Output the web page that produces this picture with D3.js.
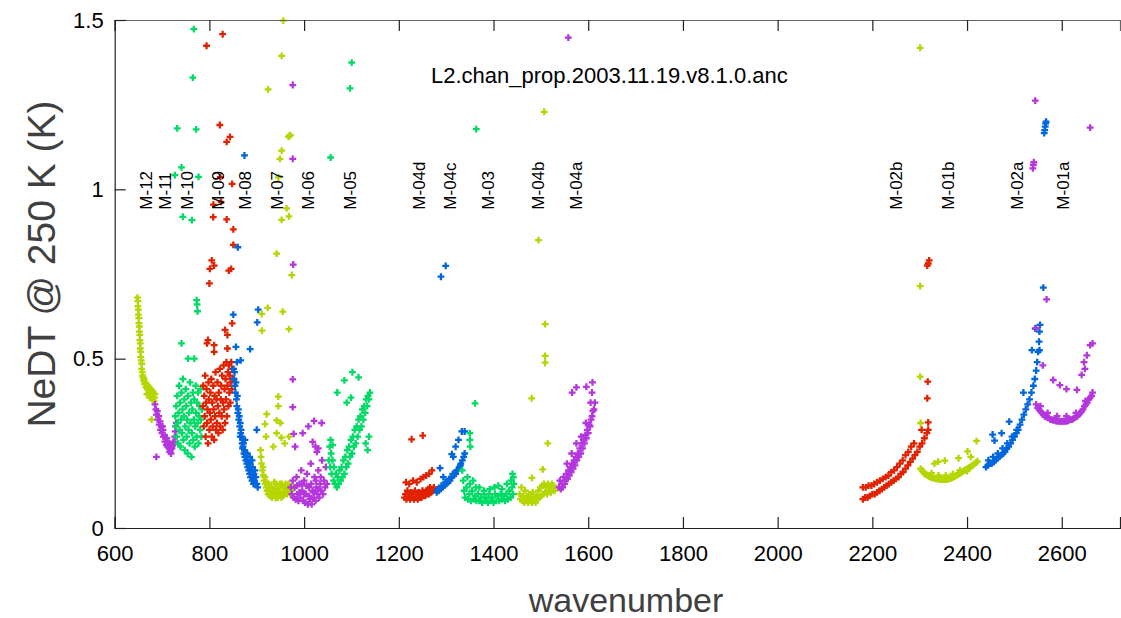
<!DOCTYPE html>
<html>
<head>
<meta charset="utf-8">
<script src="https://cdn.jsdelivr.net/npm/d3@7"></script>
<style>
  body { margin: 0; background: #fff; }
  svg { font-family: "Liberation Sans", Arial, sans-serif; }
</style>
</head>
<body>
<div id="chart"></div>
<script>
// module names, in the order the colours cycle
const modules = ["M-12", "M-11", "M-10", "M-09", "M-08", "M-07", "M-06", "M-05", "M-04d", "M-04c", "M-04b", "M-04a", "M-03", "M-02b", "M-02a", "M-01b", "M-01a"];
// wavenumber where each module label sits
const labelPos = [666, 707, 752, 819, 875, 942, 1008, 1096, 1243, 1309, 1493, 1575, 1388, 2251, 2505, 2359, 2602];
const palette = ["#b5d600", "#b536dc", "#00db66", "#e12200", "#0066dd"];

const xTicks = [600, 800, 1000, 1200, 1400, 1600, 1800, 2000, 2200, 2400, 2600];
const yTicks = [0, 0.5, 1, 1.5];

// [wavenumber, NeDT], one list per module
const m12 = [[648,0.68],[649,0.67],[649,0.655],[650,0.645],[650,0.63],[651,0.62],[651,0.605],[652,0.595],[652,0.58],[653,0.57],[653,0.555],[654,0.545],[654,0.53],[655,0.52],[655,0.505],[656,0.495],[657,0.485],[657,0.47],[658,0.46],[659,0.45],[660,0.445],[661,0.435],[662,0.44],[663,0.425],[664,0.43],[666,0.415],[667,0.425],[669,0.41],[670,0.42],[672,0.40],[673,0.415],[675,0.395],[676,0.41],[678,0.39],[679,0.405],[681,0.385],[682,0.40],[684,0.385],[685,0.395],[668,0.395],[674,0.385],[680,0.38],[683,0.375],[678,0.32]];
const m11 = [[685,0.365],[687,0.35],[688,0.335],[690,0.345],[691,0.32],[693,0.33],[694,0.305],[696,0.315],[697,0.29],[699,0.30],[700,0.28],[702,0.29],[703,0.27],[705,0.275],[706,0.255],[708,0.265],[709,0.245],[711,0.255],[712,0.24],[714,0.25],[715,0.235],[717,0.245],[718,0.23],[720,0.24],[721,0.235],[723,0.245],[724,0.255],[726,0.25],[727,0.27],[728,0.285],[729,0.30],[730,0.31],[716,0.225],[719,0.22],[710,0.265],[701,0.30],[688,0.21]];
const m10 = [[728,0.33],[729,0.30],[730,0.36],[731,0.27],[732,0.39],[733,0.31],[734,0.25],[735,0.34],[736,0.42],[737,0.29],[738,0.37],[739,0.24],[740,0.32],[741,0.40],[742,0.28],[743,0.35],[744,0.44],[745,0.26],[746,0.33],[747,0.38],[748,0.23],[749,0.30],[750,0.41],[751,0.36],[752,0.27],[753,0.32],[754,0.22],[755,0.39],[756,0.29],[757,0.34],[758,0.25],[759,0.43],[760,0.31],[761,0.37],[762,0.21],[763,0.28],[764,0.35],[765,0.40],[766,0.26],[767,0.32],[768,0.38],[769,0.24],[770,0.30],[771,0.42],[772,0.34],[773,0.27],[774,0.37],[775,0.31],[776,0.40],[777,0.25],[778,0.33],[779,0.36],[780,0.29],[781,0.41],[782,0.32],[783,0.27],[784,0.35],
  [741,0.545],[755,0.50],[768,0.50],[773,0.673],[774,0.66],[775,0.64],[767,1.473],[765,1.33],[732,1.18],[772,1.177],[741,1.065],[727,1.042],[777,1.037],[744,0.919],[763,0.909]];
const m09 = [[786,0.36],[787,0.42],[788,0.30],[789,0.39],[790,0.33],[791,0.45],[792,0.27],[793,0.37],[794,0.41],[795,0.31],[796,0.35],[797,0.25],[798,0.43],[799,0.38],[800,0.29],[801,0.34],[802,0.40],[803,0.32],[804,0.44],[805,0.27],[806,0.37],[807,0.30],[808,0.42],[809,0.35],[810,0.26],[811,0.39],[812,0.33],[813,0.46],[814,0.29],[815,0.38],[816,0.31],[817,0.43],[818,0.36],[819,0.28],[820,0.40],[821,0.34],[822,0.47],[823,0.30],[824,0.38],[825,0.42],[826,0.33],[827,0.45],[828,0.29],[829,0.37],[830,0.48],[831,0.35],[832,0.41],[833,0.31],[834,0.44],[835,0.38],[836,0.49],[837,0.33],[838,0.42],[839,0.46],[840,0.36],[841,0.48],[842,0.40],[843,0.45],[844,0.37],[845,0.43],[846,0.49],[847,0.41],[848,0.47],[849,0.44],
  [795,0.545],[797,0.555],[810,0.54],[810,0.52],[833,0.585],[838,0.57],[848,0.604],[838,0.53],[805,0.79],[810,0.775],[801,0.765],[800,0.722],[841,0.76],[846,0.765],[828,1.458],[794,1.424],[822,1.19],[843.5,1.155],[836.5,1.14],[848,1.016],[823,1.036],[824.5,0.963],[808.5,0.955],[808,0.918],[836.5,0.911],[850.5,0.882],[850.5,0.836]];
const m08 = [[851,0.47],[852,0.44],[853,0.46],[854,0.42],[855,0.40],[856,0.43],[857,0.38],[858,0.36],[859,0.39],[860,0.34],[861,0.35],[862,0.32],[863,0.33],[864,0.30],[865,0.31],[866,0.28],[867,0.29],[868,0.27],[869,0.25],[870,0.26],[871,0.24],[872,0.25],[873,0.22],[874,0.23],[875,0.21],[876,0.22],[877,0.20],[878,0.21],[879,0.19],[880,0.20],[881,0.18],[882,0.19],[883,0.17],[884,0.18],[885,0.16],[886,0.19],[887,0.15],[888,0.17],[889,0.16],[890,0.14],[891,0.18],[892,0.15],[893,0.13],[894,0.16],[895,0.14],[896,0.17],[897,0.13],[898,0.15],[900,0.13],[902,0.12],[865,0.27],[870,0.235],[875,0.26],[880,0.22],[885,0.21],[890,0.20],
  [850.5,0.63],[903,0.645],[901,0.607],[856,0.535],[886,0.528],[858,0.49],[866,0.495],[900,0.29],[874,1.10],[860,0.829]];
const m07 = [[908,0.23],[909,0.21],[910,0.19],[912,0.17],[913,0.18],[914,0.155],[916,0.14],[917,0.15],[918,0.13],[920,0.12],[921,0.135],[922,0.11],[924,0.10],[925,0.13],[927,0.12],[928,0.095],[930,0.10],[931,0.12],[932,0.09],[934,0.10],[935,0.115],[937,0.135],[938,0.105],[940,0.088],[941,0.13],[943,0.115],[944,0.09],[946,0.10],[947,0.12],[949,0.13],[950,0.105],[952,0.09],[953,0.13],[955,0.12],[956,0.095],[958,0.105],[959,0.12],[961,0.13],[962,0.11],[964,0.10],[965,0.12],[967,0.13],[968,0.11],[970,0.115],[971,0.10],[973,0.11],[974,0.125],
  [942,0.81],[974,0.747],[910.5,0.632],[923,0.65],[955,0.639],[968,0.587],[911,0.583],[945.5,0.388],[945.5,0.36],[921,0.336],[942,0.318],[950,0.31],[917.5,0.307],[942,0.28],[968,0.27],[919.5,0.27],[952,0.267],[959,0.25],[935,0.24],[956,1.498],[952.6,1.394],[924,1.295],[967,1.155],[969,1.158],[971,1.16],[952.6,1.114],[949,1.09],[945.5,1.035],[963,0.944],[968,0.92],[952.6,0.91]];
const m06 = [[972,0.12],[974,0.10],[976,0.14],[978,0.09],[980,0.12],[982,0.085],[984,0.15],[986,0.10],[988,0.08],[990,0.13],[992,0.09],[994,0.17],[996,0.11],[998,0.08],[1000,0.14],[1002,0.075],[1004,0.10],[1006,0.16],[1008,0.07],[1010,0.12],[1012,0.085],[1014,0.19],[1016,0.07],[1018,0.11],[1020,0.09],[1022,0.15],[1024,0.08],[1026,0.12],[1028,0.10],[1030,0.17],[1032,0.09],[1034,0.13],[1036,0.11],[1038,0.20],[1040,0.10],[1042,0.14],[1044,0.12],[1046,0.18],[1048,0.13],[985,0.125],[995,0.13],[1005,0.125],[1015,0.13],[1025,0.14],[1035,0.15],[990,0.105],[1000,0.10],[1010,0.095],[1020,0.105],[1030,0.115],
  [977,0.778],[976,0.439],[976,0.357],[1021,0.316],[1037,0.31],[1009,0.30],[978,0.278],[997,0.28],[1018,0.254],[981,0.24],[1024,0.24],[1030,0.235],[1027,0.225],[976,1.308],[976,1.09]];
const m05 = [[1052,0.20],[1054,0.24],[1055,0.18],[1057,0.22],[1058,0.16],[1060,0.20],[1062,0.14],[1063,0.18],[1065,0.13],[1067,0.16],[1069,0.12],[1071,0.15],[1073,0.13],[1075,0.17],[1077,0.14],[1079,0.18],[1081,0.15],[1083,0.20],[1085,0.16],[1087,0.21],[1089,0.18],[1091,0.23],[1093,0.19],[1095,0.24],[1097,0.21],[1099,0.26],[1101,0.22],[1103,0.27],[1105,0.24],[1107,0.29],[1109,0.25],[1111,0.30],[1113,0.27],[1115,0.32],[1117,0.29],[1119,0.33],[1121,0.30],[1123,0.35],[1125,0.32],[1127,0.36],[1129,0.34],[1131,0.38],[1133,0.36],[1135,0.39],[1137,0.38],[1139,0.40],[1056,0.26],[1060,0.245],[1130,0.25],[1137,0.27],[1134,0.23],
  [1102,0.46],[1115,0.445],[1085,0.436],[1070,0.40],[1090,0.37],[1099,0.385],[1100.5,1.374],[1097,1.298],[1056,1.094]];
const m04d = [[1212,0.09],[1214,0.10],[1216,0.085],[1218,0.11],[1220,0.09],[1222,0.10],[1224,0.085],[1226,0.105],[1228,0.09],[1230,0.10],[1232,0.085],[1234,0.11],[1236,0.09],[1238,0.10],[1240,0.085],[1242,0.105],[1244,0.09],[1246,0.10],[1248,0.09],[1250,0.11],[1252,0.095],[1254,0.105],[1256,0.095],[1258,0.11],[1260,0.10],[1262,0.115],[1264,0.10],[1266,0.12],[1268,0.105],[1270,0.115],[1272,0.11],[1274,0.12],[1215,0.135],[1222,0.13],[1230,0.14],[1238,0.135],[1246,0.145],[1252,0.15],[1258,0.155],[1264,0.16],[1270,0.17],
  [1227,0.262],[1250.5,0.273]];
const m04c = [[1280,0.105],[1284,0.11],[1288,0.115],[1292,0.12],[1296,0.125],[1300,0.13],[1304,0.135],[1308,0.14],[1312,0.15],[1316,0.155],[1320,0.16],[1324,0.17],[1328,0.18],[1331,0.19],[1334,0.20],[1337,0.21],[1339,0.22],[1282,0.115],[1290,0.125],[1298,0.135],[1306,0.145],[1314,0.16],[1322,0.17],[1330,0.185],
  [1287,0.177],[1294,0.15],[1312,0.218],[1315,0.21],[1320,0.24],[1326,0.26],[1333,0.285],[1339,0.285],[1289,0.742],[1299,0.774]];
const m04b = [[1455,0.10],[1457,0.085],[1459,0.12],[1461,0.08],[1463,0.095],[1465,0.075],[1467,0.11],[1469,0.08],[1471,0.09],[1473,0.075],[1475,0.10],[1477,0.08],[1479,0.09],[1481,0.075],[1483,0.105],[1485,0.08],[1487,0.09],[1489,0.075],[1491,0.095],[1493,0.085],[1495,0.11],[1497,0.09],[1499,0.12],[1501,0.095],[1503,0.125],[1505,0.10],[1507,0.13],[1509,0.105],[1511,0.12],[1513,0.10],[1515,0.13],[1517,0.11],[1519,0.12],[1521,0.105],[1523,0.13],[1525,0.115],[1527,0.125],[1529,0.11],
  [1509,0.602],[1509,0.508],[1509,0.488],[1480.6,0.383],[1514.5,0.25],[1504,0.173],[1481,0.148],[1507,1.229],[1495,0.85]];
const m04a = [[1538,0.12],[1540,0.14],[1542,0.115],[1544,0.13],[1546,0.12],[1548,0.15],[1550,0.13],[1552,0.14],[1554,0.16],[1556,0.145],[1558,0.17],[1560,0.155],[1562,0.18],[1564,0.165],[1566,0.19],[1568,0.175],[1570,0.20],[1572,0.185],[1574,0.21],[1576,0.20],[1578,0.22],[1580,0.21],[1582,0.235],[1584,0.22],[1586,0.25],[1588,0.235],[1590,0.26],[1592,0.25],[1594,0.275],[1596,0.265],[1598,0.29],[1600,0.28],[1602,0.305],[1604,0.30],[1606,0.32],[1608,0.33],[1610,0.345],[1612,0.35],[1614,0.37],[1555,0.19],[1565,0.22],[1575,0.25],[1585,0.27],[1595,0.31],
  [1566,0.40],[1575,0.415],[1596,0.417],[1609,0.43],[1608,0.40],[1605,0.37],[1558,1.448]];
const m03 = [[1334,0.17],[1336,0.14],[1338,0.11],[1340,0.09],[1343,0.12],[1346,0.085],[1349,0.10],[1352,0.08],[1355,0.11],[1358,0.085],[1361,0.095],[1364,0.08],[1367,0.10],[1370,0.08],[1373,0.09],[1376,0.075],[1379,0.10],[1382,0.08],[1385,0.09],[1388,0.075],[1391,0.10],[1394,0.08],[1397,0.09],[1400,0.075],[1403,0.10],[1406,0.08],[1409,0.095],[1412,0.08],[1415,0.10],[1418,0.085],[1421,0.095],[1424,0.08],[1427,0.10],[1430,0.085],[1433,0.11],[1436,0.09],[1439,0.12],[1441,0.10],[1443,0.13],[1442,0.15],[1345,0.15],[1350,0.13],[1357,0.14],[1363,0.12],[1370,0.12],[1380,0.11],[1392,0.115],[1402,0.12],[1410,0.125],[1418,0.115],[1428,0.13],[1437,0.14],[1440,0.16],
  [1350,0.28],[1350,0.26],[1351,0.24],[1361,0.368],[1363.5,1.178]];
const m02b = [[2180,0.085],[2185,0.09],[2190,0.09],[2195,0.095],[2200,0.10],[2205,0.10],[2210,0.105],[2215,0.11],[2220,0.115],[2225,0.12],[2230,0.125],[2235,0.13],[2240,0.135],[2245,0.14],[2250,0.145],[2255,0.15],[2260,0.16],[2265,0.165],[2270,0.175],[2275,0.185],[2280,0.195],[2285,0.205],[2290,0.215],[2295,0.225],[2300,0.24],[2305,0.25],[2310,0.265],[2315,0.28],[2318,0.29],
  [2180,0.12],[2186,0.12],[2192,0.125],[2198,0.125],[2204,0.13],[2210,0.135],[2216,0.14],[2222,0.145],[2228,0.15],[2234,0.155],[2240,0.165],[2246,0.17],[2252,0.18],[2258,0.19],[2264,0.20],[2270,0.215],[2276,0.225],[2282,0.24],[2288,0.25],
  [2316,0.775],[2318,0.781],[2320,0.79],[2317,0.432],[2316,0.383],[2318,0.312],[2304,0.29]];
const m02a = [[2440,0.18],[2444,0.185],[2448,0.19],[2452,0.19],[2456,0.195],[2460,0.20],[2464,0.205],[2468,0.21],[2472,0.215],[2476,0.22],[2480,0.225],[2484,0.235],[2488,0.24],[2492,0.25],[2496,0.26],[2500,0.27],[2504,0.28],[2508,0.29],[2512,0.305],[2516,0.32],[2520,0.335],[2524,0.35],[2528,0.365],[2532,0.38],[2536,0.40],[2540,0.42],[2543,0.44],[2546,0.465],[2548,0.49],[2550,0.52],[2552,0.55],[2553,0.58],[2554,0.60],[2445,0.20],[2455,0.21],[2465,0.22],[2475,0.235],[2485,0.25],[2495,0.27],[2505,0.29],
  [2454,0.276],[2473,0.28],[2458,0.258],[2489,0.314],[2519,0.40],[2537,0.525],[2553,0.525],[2544,0.589],[2561,0.71],[2563,1.166],[2564,1.175],[2565,1.185],[2566,1.195],[2567,1.20]];
const m01b = [[2302,0.175],[2305,0.17],[2308,0.165],[2311,0.16],[2314,0.158],[2317,0.155],[2320,0.152],[2323,0.15],[2326,0.148],[2329,0.148],[2332,0.146],[2335,0.145],[2338,0.145],[2341,0.144],[2344,0.144],[2347,0.143],[2350,0.143],[2353,0.143],[2356,0.144],[2359,0.144],[2362,0.145],[2365,0.146],[2368,0.148],[2371,0.15],[2374,0.152],[2377,0.155],[2380,0.157],[2383,0.16],[2386,0.162],[2389,0.165],[2392,0.168],[2395,0.17],[2398,0.173],[2401,0.175],[2404,0.178],[2407,0.18],[2410,0.183],[2413,0.186],[2416,0.19],[2419,0.193],[2422,0.197],[2310,0.16],[2325,0.162],[2340,0.155],[2355,0.155],[2370,0.16],[2385,0.17],[2400,0.168],
  [2331,0.19],[2339,0.196],[2353,0.199],[2382,0.206],[2401,0.226],[2408,0.21],[2420,0.257],[2301,0.714],[2301,0.447],[2302,0.31],[2301,1.418]];
const m01a = [[2546,0.365],[2549,0.355],[2552,0.35],[2555,0.345],[2558,0.34],[2561,0.335],[2564,0.33],[2567,0.33],[2570,0.325],[2573,0.325],[2576,0.32],[2579,0.32],[2582,0.318],[2585,0.318],[2588,0.316],[2591,0.316],[2594,0.315],[2597,0.315],[2600,0.315],[2603,0.315],[2606,0.315],[2609,0.316],[2612,0.316],[2615,0.318],[2618,0.32],[2621,0.32],[2624,0.322],[2627,0.325],[2630,0.328],[2633,0.33],[2636,0.335],[2639,0.34],[2642,0.345],[2645,0.35],[2648,0.36],[2651,0.365],[2654,0.37],[2657,0.38],[2660,0.385],[2663,0.39],[2665,0.40],[2555,0.36],[2570,0.34],[2590,0.33],[2610,0.33],[2630,0.34],[2650,0.375],
  [2582,0.437],[2596,0.422],[2610,0.41],[2632,0.408],[2642,0.452],[2649,0.47],[2647,0.49],[2653,0.51],[2660,0.54],[2665,0.545],[2568,0.675],[2546,0.59],[2560,0.48],[2544,1.262],[2539,1.062],[2540,1.072],[2541,1.08],[2660,1.182]];

const moduleData = [m12, m11, m10, m09, m08, m07, m06, m05, m04d, m04c, m04b, m04a, m03, m02b, m02a, m01b, m01a];

const width = 1121, height = 618;
const plotLeft = 114.7, plotRight = 1120, plotTop = 20, plotBottom = 528;

const svg = d3.select("#chart").append("svg")
    .attr("width", width)
    .attr("height", height);

const x = d3.scaleLinear().domain([600, 2723]).range([plotLeft, plotRight]);
const y = d3.scaleLinear().domain([0, 1.5]).range([plotBottom, plotTop]);

// points
const marker = d3.symbol().type(d3.symbolCross).size(26)();
moduleData.forEach((pts, i) => {
    svg.append("g")
        .selectAll("path")
        .data(pts)
        .enter()
        .append("path")
        .attr("d", marker)
        .attr("transform", d => `translate(${x(d[0])},${y(d[1])})`)
        .attr("fill", palette[i % palette.length]);
});

// frame + ticks
const bottomAxis = d3.axisBottom(x).tickValues(xTicks).tickSize(-11).tickPadding(22).tickFormat(d3.format("d"));
const topAxis = d3.axisTop(x).tickValues(xTicks).tickSize(-11).tickFormat("");
const leftAxis = d3.axisLeft(y).tickValues(yTicks).tickSize(-11).tickPadding(22).tickFormat(d => d);

const gb = svg.append("g").attr("transform", `translate(0,${plotBottom})`).call(bottomAxis);
const gt = svg.append("g").attr("transform", `translate(0,${plotTop})`).call(topAxis);
const gl = svg.append("g").attr("transform", `translate(${plotLeft},0)`).call(leftAxis);

[gb, gt, gl].forEach(g => {
    g.select(".domain").attr("stroke", "#222").attr("stroke-width", 1.2);
    g.selectAll(".tick line").attr("stroke", "#222").attr("stroke-width", 1.2);
    g.selectAll("text").attr("fill", "#000").style("font-size", "22px").style("font-family", "Liberation Sans, Arial, sans-serif");
});
gt.select(".domain").attr("stroke", "#666");
gb.selectAll(".tick text").attr("dy", "0.5em");
gl.selectAll(".tick text").attr("dx", "0.5em");

// module labels
svg.append("g")
    .selectAll("text")
    .data(modules)
    .enter()
    .append("text")
    .attr("transform", (d, i) => `translate(${x(labelPos[i]) + 6},${y(0.94)}) rotate(-90)`)
    .style("font-size", "17px")
    .attr("fill", "#000")
    .text(d => d);

svg.append("text")
    .attr("x", x(1268))
    .attr("y", 83)
    .style("font-size", "22px")
    .attr("fill", "#000")
    .text("L2.chan_prop.2003.11.19.v8.1.0.anc");

svg.append("text")
    .attr("x", 626)
    .attr("y", 612)
    .attr("text-anchor", "middle")
    .style("font-size", "34px")
    .attr("fill", "#404040")
    .text("wavenumber");

svg.append("text")
    .attr("transform", `translate(55,${264}) rotate(-90)`)
    .attr("text-anchor", "middle")
    .style("font-size", "39px")
    .attr("fill", "#404040")
    .text("NeDT @ 250 K (K)");
</script>
</body>
</html>
